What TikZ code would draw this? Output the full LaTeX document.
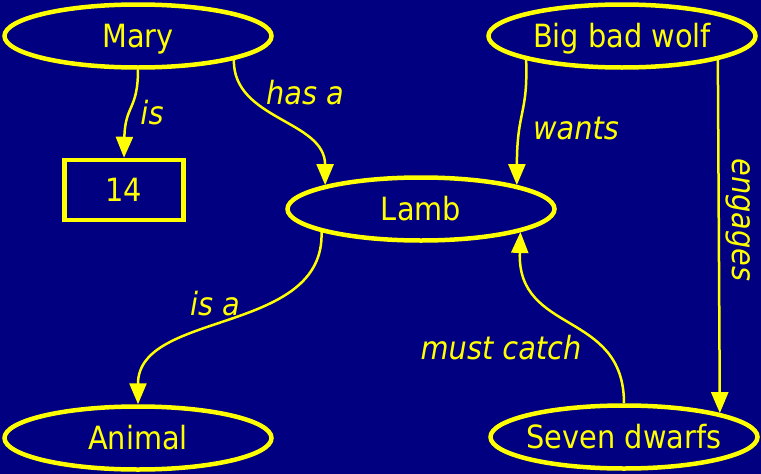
\documentclass[tikz,border=0pt]{standalone}
\usepackage{fontspec}
\setmainfont{DejaVu Sans}[FakeStretch=0.9]
\usetikzlibrary{arrows.meta,shapes.geometric}
\definecolor{navybg}{RGB}{0,0,128}
\definecolor{yel}{RGB}{255,255,0}

\begin{document}
\begin{tikzpicture}[x=1pt,y=-1pt]
      \tikzstyle{n}=[ellipse,draw=yel,line width=4.5pt,minimum width=267pt,minimum height=63pt,inner xsep=-5pt,inner ysep=0pt,text=yel,text height=28pt,text depth=6pt,font=\fontsize{32}{38}\selectfont]
      \tikzstyle{b}=[rectangle,draw=yel,line width=4.5pt,minimum width=119pt,minimum height=60pt,inner sep=0pt,text=yel,text height=28pt,text depth=6pt,font=\fontsize{32}{38}\selectfont]
      \tikzstyle{e}=[draw=yel,line width=2.5pt,-{Triangle[length=21pt,width=17pt]}]
      \tikzstyle{l}=[text=yel,inner sep=0pt,font=\fontsize{32}{38}\selectfont\itshape]
      \fill[navybg] (0,0) rectangle (761,474);
      \useasboundingbox (0,0) rectangle (761,474);
      % nodes
      \node[n] (mary) at (138,36) {Mary};
      \node[n] (wolf) at (622,36) {Big bad wolf};
      \node[b] (age) at (124,190) {14};
      \node[n] (lamb) at (421,209) {Lamb};
      \node[n] (animal) at (138,438) {Animal};
      \node[n] (dwarfs) at (624,437) {Seven dwarfs};
      % edges
      \draw[e] (mary.-90) .. controls (138,110) and (125,105) .. (age.north);
      \draw[e] (mary.-14) .. controls (233,120) and (325,120) .. (lamb.166);
      \draw[e] (wolf.194) .. controls (528,115) and (517,110) .. (lamb.14);
      \draw[e] (wolf.-14) -- (dwarfs.14);
      \draw[e] (lamb.193) .. controls (325,335) and (138,310) .. (animal.north);
      \draw[e] (dwarfs.north) .. controls (624,310) and (517,335) .. (lamb.-13);
      % labels
      \node[l] (lis) at (152,113) {is};
      \node[l] (lhas) at (305,93) {has a};
      \node[l] (lwants) at (576,128) {wants};
      \node[l,rotate=-90] (leng) at (738,220) {engages};
      \node[l] (lisa) at (215,304) {is a};
      \node[l] (lcatch) at (501,348) {must catch};
    \end{tikzpicture}
\end{document}
